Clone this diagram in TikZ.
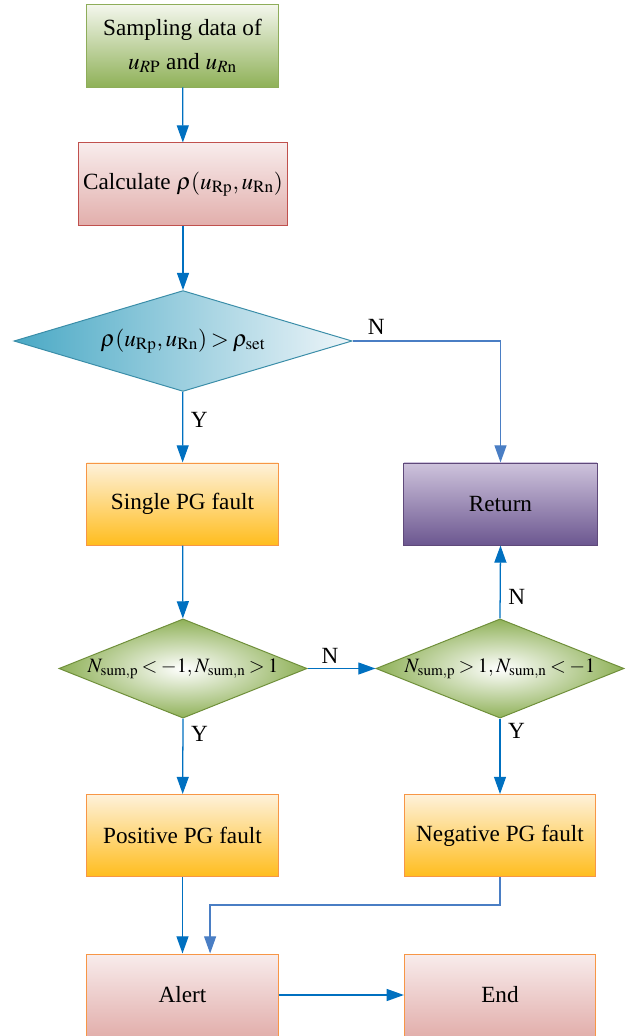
\documentclass[tikz,border=0pt]{standalone}
\usepackage{mathptmx}
\usepackage[no-math]{fontspec}
\setmainfont{Liberation Serif}
\usetikzlibrary{shapes.geometric,arrows.meta}
\definecolor{lineblue}{HTML}{0070C0}
\definecolor{lineblue2}{HTML}{4A7EC4}
\definecolor{greentop}{HTML}{F3F6EC}
\definecolor{greenbot}{HTML}{8FB158}
\definecolor{greenedge}{HTML}{8EAD5A}
\definecolor{pinktop}{HTML}{F8ECEC}
\definecolor{pinkbot}{HTML}{E2AFAC}
\definecolor{rededge}{HTML}{C0504D}
\definecolor{orangetop}{HTML}{FEF1DA}
\definecolor{orangebot}{HTML}{FFBD1E}
\definecolor{orangeedge}{HTML}{F79646}
\definecolor{purpletop}{HTML}{CEC3DC}
\definecolor{purplebot}{HTML}{6C5790}
\definecolor{purpleedge}{HTML}{5F497A}
\definecolor{cyandark}{HTML}{4AA9C5}
\definecolor{cyanlight}{HTML}{EEF5F9}
\definecolor{cyanedge}{HTML}{3A8DA8}
\definecolor{decedge}{HTML}{6F8F3A}
\newcommand{\tightmath}[1]{\makebox[0pt]{$\thickmuskip=3mu\medmuskip=2mu #1$}}
\begin{document}
\begin{tikzpicture}[x=0.025cm,y=-0.025cm,
  font=\fontsize{16.5}{24}\selectfont,
  box/.style={rectangle, minimum width=4.78cm, minimum height=2.05cm,
    align=center, line width=0.7pt},
  decision/.style={diamond, inner sep=0pt, line width=0.7pt},
  flow/.style={draw=lineblue, line width=0.9pt,
    -{Triangle[length=0.43cm,width=0.3cm]}},
  flowlight/.style={flow, draw=lineblue2}]
\useasboundingbox (0,0) rectangle (633,1036);
% boxes
\node[box, draw=greenedge, top color=greentop, bottom color=greenbot] (samp) at (182.5,46)
  {Sampling data of\\ $u_{R\mathrm{P}}$ and $u_{R\mathrm{n}}$};
\node[box, minimum width=4.9cm, draw=rededge, top color=pinktop, bottom color=pinkbot] (calc) at (183,184)
  {Calculate $\rho(u_{\mathrm{Rp}},u_{\mathrm{Rn}})$};
\node[decision, aspect=3.35, minimum width=8.45cm, minimum height=2.52cm,
  draw=cyanedge, left color=cyandark, right color=cyanlight] (dec1) at (183,341)
  {\tightmath{\rho(u_{\mathrm{Rp}},u_{\mathrm{Rn}})>\rho_{\mathrm{set}}}};
\node[box, draw=orangeedge, top color=orangetop, bottom color=orangebot] (single) at (182.5,504)
  {Single PG fault};
\node[box, minimum width=4.83cm, draw=purpleedge, top color=purpletop, bottom color=purplebot] (ret) at (500.5,504)
  {Return};
\node[decision, aspect=2.5, minimum width=6.2cm, minimum height=2.48cm,
  font=\fontsize{14.5}{17}\selectfont,
  draw=decedge, inner color=white, outer color=greenbot] (dec2) at (183,668.5)
  {\tightmath{N_{\mathrm{sum,p}}<-1, N_{\mathrm{sum,n}}>1}};
\node[decision, aspect=2.5, minimum width=6.2cm, minimum height=2.48cm,
  font=\fontsize{14.5}{17}\selectfont,
  draw=decedge, inner color=white, outer color=greenbot] (dec3) at (500,668.5)
  {\tightmath{N_{\mathrm{sum,p}}>1, N_{\mathrm{sum,n}}<-1}};
\node[box, draw=orangeedge, top color=orangetop, bottom color=orangebot] (pos) at (182.5,835.5)
  {Positive PG fault};
\node[box, draw=orangeedge, top color=orangetop, bottom color=orangebot] (neg) at (500,835.5)
  {Negative PG fault};
\node[box, draw=orangeedge, top color=pinktop, bottom color=pinkbot] (alert) at (182.5,995)
  {Alert};
\node[box, draw=orangeedge, top color=pinktop, bottom color=pinkbot] (endn) at (500,995)
  {End};
% connectors
\draw[flow] (samp) -- (calc);
\draw[flow] (calc) -- (dec1);
\draw[flow] (dec1) -- node[pos=0.4, right, xshift=2pt] {Y} (single);
\draw[flowlight] (dec1.east) -| node[pos=0.08, above, yshift=1pt] {N} (ret.north);
\draw[flow] (single) -- (dec2);
\draw[flow] (dec2.east) -- node[pos=0.33, above] {N} (dec3.west);
\draw[flow] (dec3.north) -- node[pos=0.3, right, xshift=2pt] {N} (ret.south);
\draw[flow] (dec2.south) -- node[pos=0.2, right, xshift=2pt] {Y} (pos);
\draw[flow] (dec3.south) -- node[pos=0.16, right, xshift=2pt] {Y} (neg);
\draw[flow] (pos) -- (alert);
\draw[flowlight] (neg.south) -- ++(0,28) -| ([xshift=0.69cm]alert.north);
\draw[flow] (alert) -- (endn);
\end{tikzpicture}
\end{document}
